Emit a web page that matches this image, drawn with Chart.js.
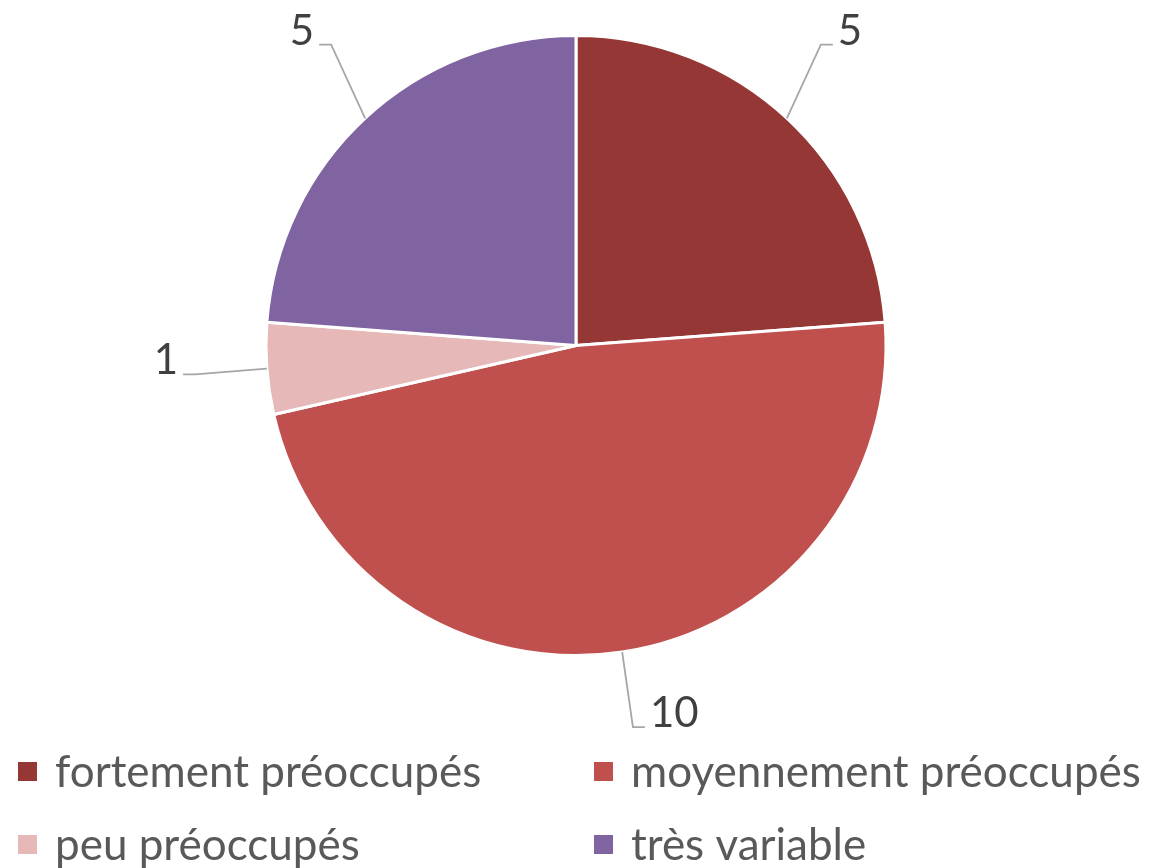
<!DOCTYPE html>
<html>
<head>
<meta charset="utf-8">
<script src="https://cdn.jsdelivr.net/npm/chart.js@4.4.1/dist/chart.umd.min.js"></script>
<style>
    html, body { margin: 0; padding: 0; background: #ffffff; }
    #wrap { position: relative; width: 1157px; height: 868px; }
</style>
</head>
<body>
<div id="wrap"><canvas id="pieChart" width="1157" height="868"></canvas></div>
<script>
// Données du graphique
const labels = ['fortement préoccupés', 'moyennement préoccupés', 'peu préoccupés', 'très variable'];
const values = [5, 10, 1, 5];
const colors = ['#953735', '#C0504D', '#E6B9B8', '#8064A2'];

const FONT = 'Lato, "Open Sans", sans-serif';

// Étiquettes de données avec lignes de repère
const leaderLabels = {
    id: 'leaderLabels',
    afterDatasetsDraw(chart) {
        const ctx = chart.ctx;
        const meta = chart.getDatasetMeta(0);
        ctx.save();
        meta.data.forEach((arc, i) => {
            const p = arc.getProps(['x', 'y', 'startAngle', 'endAngle', 'outerRadius'], true);
            const mid = (p.startAngle + p.endAngle) / 2;
            const dx = Math.cos(mid);
            const dy = Math.sin(mid);
            const side = dx >= 0 ? 1 : -1;

            // étiquettes du haut : plus hautes et plus près du centre, comme Excel
            const top = dy < 0;
            const x0 = p.x + dx * p.outerRadius;
            const y0 = p.y + dy * p.outerRadius;
            const x1 = p.x + dx * (p.outerRadius + (top ? 50 : 72));
            const y1 = p.y + dy * (p.outerRadius + 76) - (top ? 18 : 0);
            const x2 = x1 + side * 12;

            ctx.strokeStyle = '#A6A6A6';
            ctx.lineWidth = 1.8;
            ctx.beginPath();
            ctx.moveTo(x0, y0);
            ctx.lineTo(x1, y1);
            ctx.lineTo(x2, y1);
            ctx.stroke();

            ctx.fillStyle = '#404040';
            ctx.font = '42px ' + FONT;
            ctx.textAlign = side > 0 ? 'left' : 'right';
            ctx.textBaseline = 'alphabetic';
            ctx.fillText(String(values[i]), x2 + side * 5, y1);
        });
        ctx.restore();
    }
};

// Légende sur deux colonnes
const twoColLegend = {
    id: 'twoColLegend',
    afterDraw(chart) {
        const ctx = chart.ctx;
        const colX = [18, 594];
        const rowY = [787, 860];
        ctx.save();
        ctx.font = '44px ' + FONT;
        ctx.textAlign = 'left';
        ctx.textBaseline = 'alphabetic';
        labels.forEach((lab, i) => {
            const x = colX[i % 2];
            const y = rowY[Math.floor(i / 2)];
            ctx.fillStyle = colors[i];
            ctx.fillRect(x, y - 25, 19, 19);
            ctx.fillStyle = '#595959';
            ctx.fillText(lab, x + 37, y);
        });
        ctx.restore();
    }
};

new Chart(document.getElementById('pieChart'), {
    type: 'pie',
    data: {
        labels: labels,
        datasets: [{
            data: values,
            backgroundColor: colors,
            borderColor: '#ffffff',
            borderWidth: 3
        }]
    },
    options: {
        responsive: false,
        animation: false,
        layout: {
            padding: { top: 34, bottom: 211, left: 0, right: 5 }
        },
        plugins: {
            legend: { display: false },
            tooltip: { enabled: false }
        }
    },
    plugins: [leaderLabels, twoColLegend]
});
</script>
</body>
</html>
